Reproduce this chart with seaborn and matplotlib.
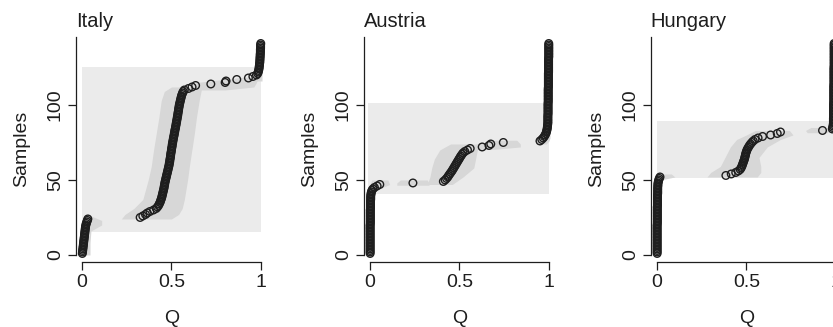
import numpy as np
import matplotlib
matplotlib.use("Agg")
import matplotlib.pyplot as plt
import seaborn as sns

sns.set_theme(style="white")
plt.rcParams['font.family'] = ['Liberation Sans', 'DejaVu Sans']

# ---------------- data ----------------
panel_names = ["Italy", "Austria", "Hungary"]
x_ticks = [0, 0.5, 1]
x_tick_labels = ["0", "0.5", "1"]
y_ticks = [0, 50, 100]
y_tick_labels = ["0", "50", "100"]

# sorted Q estimates per sample
italy_q = [
    0.002, 0.003, 0.004, 0.005, 0.006, 0.007, 0.008, 0.009, 0.010, 0.011,
    0.012, 0.013, 0.014, 0.015, 0.016, 0.017, 0.018, 0.019, 0.020, 0.022,
    0.024, 0.027, 0.030, 0.033,
    0.325, 0.340, 0.355, 0.365, 0.380, 0.400, 0.415, 0.422, 0.428, 0.432,
    0.436, 0.439, 0.442, 0.445, 0.447, 0.449, 0.451, 0.453, 0.455, 0.457,
    0.459, 0.460, 0.462, 0.463, 0.465, 0.467, 0.469, 0.471, 0.473, 0.475,
    0.477, 0.479, 0.481, 0.483, 0.485, 0.487, 0.488, 0.490, 0.491, 0.492,
    0.494, 0.495, 0.496, 0.497, 0.499, 0.500, 0.501, 0.503, 0.504, 0.505,
    0.507, 0.508, 0.510, 0.511, 0.513, 0.515, 0.516, 0.518, 0.519, 0.521,
    0.523, 0.524, 0.526, 0.527, 0.529, 0.530, 0.532, 0.533, 0.535, 0.536,
    0.537, 0.539, 0.540, 0.541, 0.543, 0.544, 0.546, 0.548, 0.550, 0.552,
    0.554, 0.556, 0.559, 0.562, 0.566, 0.572,
    0.595, 0.615, 0.635, 0.720, 0.800, 0.805, 0.865, 0.930, 0.955, 0.975,
    0.982, 0.985, 0.987, 0.989, 0.990, 0.991, 0.992, 0.993, 0.994, 0.994,
    0.995, 0.995, 0.996, 0.996, 0.997, 0.997, 0.997, 0.998, 0.998, 0.998,
    0.999,
]
austria_q = [
    0.001, 0.001, 0.001, 0.001, 0.001, 0.001, 0.001, 0.001, 0.001, 0.001,
    0.001, 0.001, 0.001, 0.001, 0.001, 0.001, 0.001, 0.001, 0.001, 0.001,
    0.002, 0.002, 0.002, 0.002, 0.002, 0.002, 0.002, 0.002, 0.002, 0.002,
    0.003, 0.003, 0.003, 0.003, 0.003, 0.003, 0.004, 0.004, 0.004, 0.005,
    0.006, 0.008, 0.011, 0.016,
    0.025, 0.040, 0.055, 0.240,
    0.410, 0.420, 0.428, 0.435, 0.440, 0.446, 0.452, 0.458, 0.463, 0.468,
    0.473, 0.478, 0.483, 0.488, 0.493, 0.498, 0.503, 0.508, 0.514, 0.520,
    0.530, 0.545, 0.560,
    0.627, 0.665, 0.675, 0.745,
    0.950, 0.960, 0.968, 0.974, 0.979, 0.983, 0.986, 0.988, 0.990, 0.991,
    0.992, 0.993,
    0.994, 0.994, 0.994, 0.994, 0.994, 0.994,
    0.995, 0.995, 0.995, 0.995, 0.995, 0.995, 0.995, 0.995,
    0.996, 0.996, 0.996, 0.996, 0.996, 0.996, 0.996, 0.996, 0.996, 0.996,
    0.997, 0.997, 0.997, 0.997, 0.997, 0.997, 0.997, 0.997, 0.997, 0.997,
    0.998, 0.998, 0.998, 0.998, 0.998, 0.998, 0.998, 0.998, 0.998, 0.998,
    0.999, 0.999, 0.999, 0.999, 0.999, 0.999, 0.999, 0.999, 0.999, 0.999,
]
hungary_q = [
    0.001, 0.001, 0.001, 0.001, 0.001, 0.001, 0.001, 0.001, 0.001, 0.001,
    0.001, 0.001, 0.001, 0.001, 0.001, 0.001, 0.001, 0.001, 0.001, 0.001,
    0.002, 0.002, 0.002, 0.002, 0.002, 0.002, 0.002, 0.002, 0.002, 0.002,
    0.002, 0.002, 0.003, 0.003, 0.003, 0.003, 0.003, 0.003, 0.003, 0.003,
    0.004, 0.004, 0.004, 0.004, 0.004, 0.005, 0.005, 0.006, 0.008, 0.010,
    0.013, 0.017,
    0.385, 0.415, 0.440, 0.455, 0.465, 0.470, 0.474, 0.477, 0.480, 0.483,
    0.486, 0.489, 0.491, 0.493, 0.495, 0.497, 0.500, 0.503, 0.507, 0.512,
    0.517, 0.523, 0.530, 0.538, 0.548, 0.565, 0.590, 0.635, 0.672, 0.690,
    0.925, 0.980,
    0.982, 0.984, 0.985, 0.986, 0.986, 0.986, 0.986,
    0.987, 0.987, 0.987, 0.987, 0.987, 0.987, 0.987, 0.987, 0.987, 0.987,
    0.988, 0.988, 0.988, 0.988, 0.988, 0.988, 0.988, 0.988, 0.988, 0.988,
    0.988, 0.988,
    0.989, 0.989, 0.989, 0.989, 0.989, 0.989, 0.989, 0.989, 0.989, 0.989,
    0.989, 0.989,
    0.990, 0.990, 0.990, 0.990, 0.990, 0.990, 0.990, 0.990, 0.990, 0.990,
    0.990, 0.990, 0.990, 0.990, 0.990, 0.990,
]

# light rectangle (sample range of the group): y-bottom, y-top, x-left, x-right
italy_rect = [15, 125, 0.0, 1.0]
austria_rect = [40.5, 101, -0.01, 1.0]
hungary_rect = [51.5, 89, 0.0, 1.05]

# credible-interval bands: segments of (sample levels, lower Q, upper Q)
italy_bands = [
    ([0, 8, 16, 20, 23, 25.5], [-0.006, -0.006, -0.004, 0.0, 0.005, 0.02], [0.045, 0.045, 0.05, 0.11, 0.11, 0.06]),
    ([24, 27, 31, 37, 50, 59, 70, 81, 92, 103, 109, 112], [0.22, 0.24, 0.29, 0.34, 0.37, 0.387, 0.40, 0.415, 0.43, 0.443, 0.46, 0.50],
     [0.50, 0.54, 0.56, 0.572, 0.59, 0.60, 0.614, 0.628, 0.64, 0.655, 0.665, 0.67]),
    ([110, 112, 115, 118.5], [0.60, 0.60, 0.64, 0.90], [0.80, 0.96, 0.975, 0.985]),
    ([116, 122, 141.5], [0.955, 0.972, 0.983], [1.006, 1.006, 1.006]),
]
austria_bands = [
    ([0, 40, 44.5], [-0.006, -0.006, -0.006], [0.012, 0.02, 0.04]),
    ([45.5, 47, 50], [-0.004, 0.0, 0.01], [0.08, 0.11, 0.10]),
    ([46.5, 48, 50], [0.15, 0.15, 0.17], [0.33, 0.33, 0.32]),
    ([47, 52, 58, 64, 70, 74], [0.32, 0.335, 0.345, 0.36, 0.39, 0.45], [0.46, 0.52, 0.58, 0.59, 0.60, 0.60]),
    ([70.5, 72, 74, 76.5], [0.55, 0.56, 0.60, 0.70], [0.70, 0.84, 0.84, 0.82]),
    ([74, 76, 78, 85, 100, 141.5], [0.93, 0.92, 0.955, 0.975, 0.985, 0.99], [0.985, 1.0, 1.006, 1.006, 1.006, 1.006]),
]
hungary_bands = [
    ([0, 50, 52, 54], [-0.006, -0.006, -0.004, 0.0], [0.012, 0.02, 0.10, 0.08]),
    ([52, 55, 59, 65, 72, 77, 80, 83], [0.28, 0.30, 0.354, 0.38, 0.41, 0.445, 0.50, 0.55],
     [0.56, 0.58, 0.58, 0.57, 0.616, 0.69, 0.76, 0.74]),
    ([81.5, 83, 85], [0.84, 0.83, 0.86], [0.95, 0.97, 0.96]),
    ([83, 141.5], [0.97, 0.978], [1.0, 1.0]),
]

panel_q = [italy_q, austria_q, hungary_q]
panel_rect = [italy_rect, austria_rect, hungary_rect]
panel_bands = [italy_bands, austria_bands, hungary_bands]

# ---------------- figure ----------------
W, H = 833, 327
fig = plt.figure(figsize=(W / 100, H / 100), dpi=100)
fig.patch.set_facecolor("white")

ax_w = 191.5 / W
ax_h = 226.9 / H
ax_b = (H - 262) / H
lefts = [75.7 / W, 363.7 / W, 650.7 / W]

rect_color = "#EBEBEB"
band_color = "#D7D7D7"
ink = "#1E1E1E"
fs = 14

for i, name in enumerate(panel_names):
    ax = fig.add_axes([lefts[i], ax_b, ax_w, ax_h])
    ax.set_facecolor("white")
    q = np.array(panel_q[i])
    samples = np.arange(1, len(q) + 1)

    y0, y1, xl, xr = panel_rect[i]
    ax.fill_between([xl, xr], [y0, y0], [y1, y1], color=rect_color, lw=0, zorder=1)
    for ys, lo, hi in panel_bands[i]:
        ax.fill_betweenx(ys, lo, hi, color=band_color, lw=0, zorder=2)

    sns.scatterplot(x=q, y=samples, ax=ax, marker="o", s=30,
                    facecolors="none", edgecolor=ink, linewidth=1.0,
                    zorder=3, legend=False)

    ax.set_xlim(-0.035, 1.035)
    ax.set_ylim(-4.7, 146.6)
    for side in ["top", "right"]:
        ax.spines[side].set_visible(False)
    for side in ["left", "bottom"]:
        ax.spines[side].set_color(ink)
        ax.spines[side].set_linewidth(0.9)
    ax.spines["left"].set_bounds(0, 145)
    ax.spines["bottom"].set_bounds(0, 1)

    ax.set_xticks(x_ticks)
    ax.set_xticklabels(x_tick_labels, fontsize=fs, color=ink)
    ax.set_yticks(y_ticks)
    ax.set_yticklabels(y_tick_labels, fontsize=fs, color=ink, rotation=90, va="center")
    ax.tick_params(axis="both", direction="out", length=5.5, width=0.9, color=ink,
                   left=True, bottom=True, pad=3)
    ax.grid(False)

    ax.set_xlabel("Q", fontsize=fs, color=ink)
    ax.set_ylabel("Samples", fontsize=fs, color=ink)
    ax.xaxis.label.set_verticalalignment("center")
    ax.yaxis.label.set_verticalalignment("center")
    ax.xaxis.set_label_coords(0.5, -0.247)
    ax.yaxis.set_label_coords(-0.28, 0.5)

    ax.set_title(name, loc="left", fontsize=14.5, color=ink, pad=6)

fig.savefig("out.png", dpi=100)
